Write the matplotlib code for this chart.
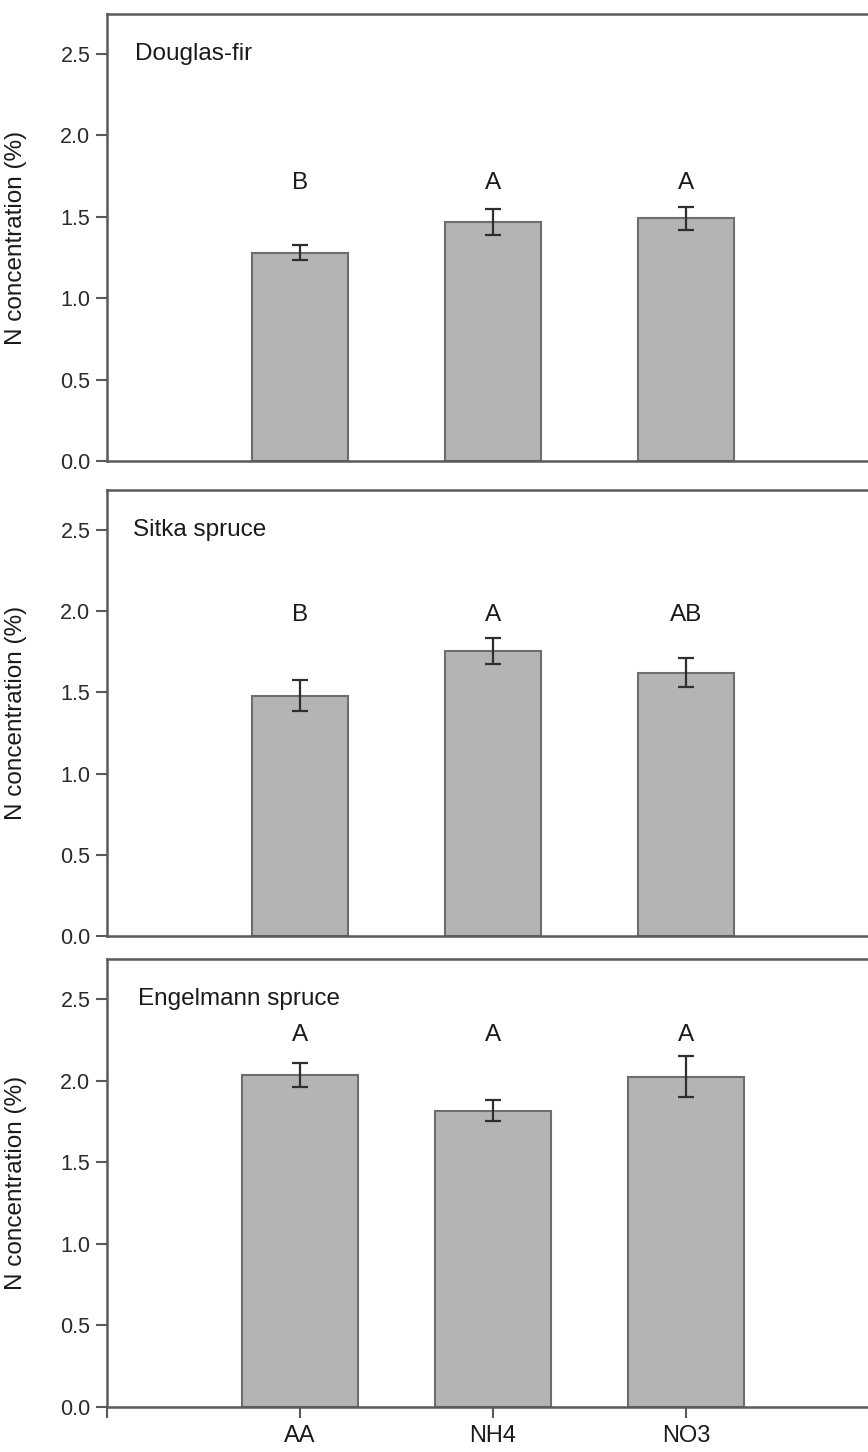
import matplotlib
matplotlib.use("Agg")
import matplotlib.pyplot as plt

plt.rcParams['font.family'] = ['Liberation Sans', 'DejaVu Sans']

categories = ["AA", "NH4", "NO3"]
species = ["Douglas-fir", "Sitka spruce", "Engelmann spruce"]
means_douglas = [1.28, 1.465, 1.49]
err_douglas = [0.045, 0.08, 0.07]
means_sitka = [1.48, 1.755, 1.62]
err_sitka = [0.095, 0.08, 0.09]
means_engel = [2.035, 1.815, 2.025]
err_engel = [0.072, 0.064, 0.125]
letters_douglas = ["B", "A", "A"]
letters_sitka = ["B", "A", "AB"]
letters_engel = ["A", "A", "A"]
letter_y = [1.705, 1.975, 2.28]
yticks = [0.0, 0.5, 1.0, 1.5, 2.0, 2.5]

means = [means_douglas, means_sitka, means_engel]
errs = [err_douglas, err_sitka, err_engel]
letters = [letters_douglas, letters_sitka, letters_engel]
bar_widths = [0.5, 0.5, 0.6]
title_x = [-0.855, -0.865, -0.84]

W, H = 868, 1452
fig = plt.figure(figsize=(W / 100, H / 100), dpi=100)
left = 107 / W
width = (879 - 107) / W
panels = [(14, 461), (490, 936), (959, 1407)]

spine_col = "#5a5a5a"
for i, (top_px, bot_px) in enumerate(panels):
    ax = fig.add_axes([left, 1 - bot_px / H, width, (bot_px - top_px) / H])
    x = list(range(len(categories)))
    ax.bar(x, means[i], width=bar_widths[i], color="#b4b4b4",
           edgecolor="#6e6e6e", linewidth=1.5, zorder=2)
    ax.errorbar(x, means[i], yerr=errs[i], fmt="none", ecolor="#2e2e2e",
                elinewidth=1.6, capsize=5.8, capthick=1.6, zorder=3)
    for xi, lab in zip(x, letters[i]):
        ax.text(xi, letter_y[i], lab, ha="center", va="center",
                fontsize=17.5, color="#1a1a1a")
    ax.text(title_x[i], 2.5, species[i], ha="left", va="center",
            fontsize=17.5, color="#1a1a1a")
    ax.set_xlim(-1, 3)
    ax.set_ylim(0, 2.745)
    ax.set_yticks(yticks)
    ax.set_yticklabels([f"{t:.1f}" for t in yticks], fontsize=15.5, color="#2a2a2a")
    ax.tick_params(axis="y", direction="out", length=8, width=1.5, color=spine_col, pad=4)
    for s in ["top", "left", "bottom"]:
        ax.spines[s].set_color(spine_col)
        ax.spines[s].set_linewidth(1.8)
    ax.spines["right"].set_visible(False)
    ax.set_ylabel("N concentration (%)", fontsize=17.5, color="#1a1a1a")
    ax.yaxis.set_label_coords(-0.104, 0.5)
    if i == 2:
        ax.set_xticks(x)
        ax.set_xticklabels(categories, fontsize=17, color="#1a1a1a")
        ax.set_xticks([-1], minor=True)
        ax.tick_params(axis="x", which="both", direction="out", length=8,
                       width=1.5, color=spine_col, pad=5)
    else:
        ax.set_xticks([])

fig.savefig("out.png", dpi=100, facecolor="white")
